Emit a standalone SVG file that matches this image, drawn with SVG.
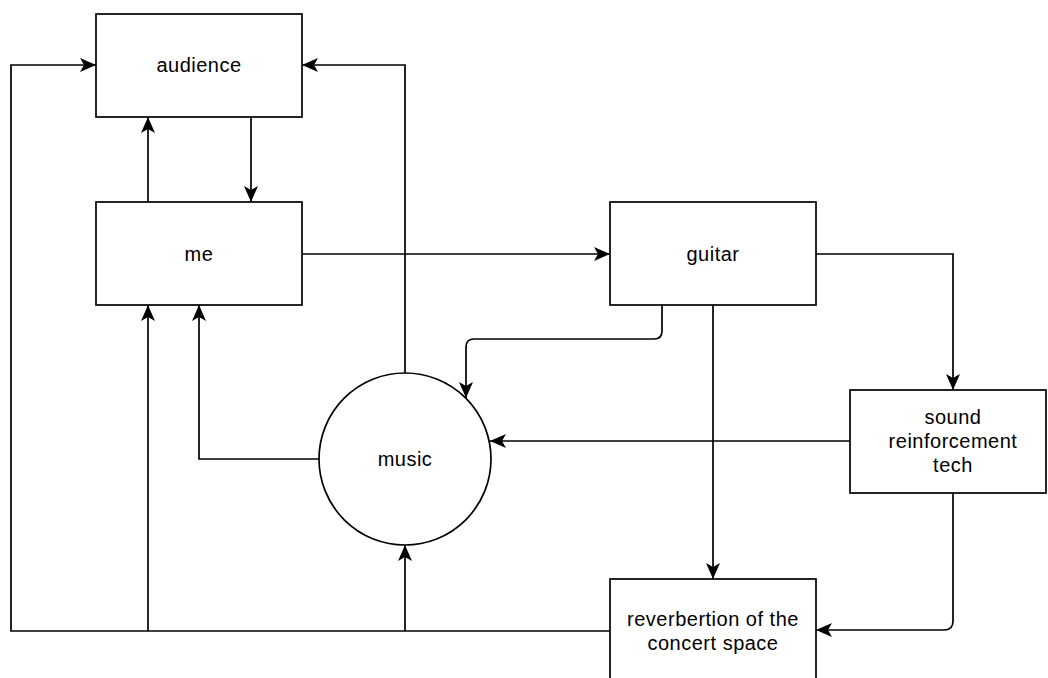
<svg xmlns="http://www.w3.org/2000/svg" width="1048" height="678" viewBox="0 0 1048 678">
  <style>
    .box { fill: #ffffff; stroke: #000000; stroke-width: 1.7; }
    .edge { fill: none; stroke: #000000; stroke-width: 1.7; }
    .label { font-family: "Liberation Sans", Arial, sans-serif; font-size: 20px; letter-spacing: 0.5px; fill: #000000; text-anchor: middle; dominant-baseline: central; }
  </style>
  <defs>
    <marker id="arrow" viewBox="0 0 16 14" refX="16" refY="7" markerWidth="16" markerHeight="14" markerUnits="userSpaceOnUse" orient="auto">
      <path d="M0,0 L16,7 L0,14 L4,7 Z" fill="#000000"/>
    </marker>
  </defs>
  <rect width="1048" height="678" fill="#ffffff"/>

  <!-- connectors -->
  <g id="connectors">
    <!-- me -> audience -->
    <path class="edge" d="M148,202 L148,117" marker-end="url(#arrow)"/>
    <!-- audience -> me -->
    <path class="edge" d="M251,117 L251,202" marker-end="url(#arrow)"/>
    <!-- me -> guitar -->
    <path class="edge" d="M302,254 L610,254" marker-end="url(#arrow)"/>
    <!-- music -> audience -->
    <path class="edge" d="M405,373 L405,65 L302,65" marker-end="url(#arrow)"/>
    <!-- music -> me -->
    <path class="edge" d="M319,459 L199,459 L199,305" marker-end="url(#arrow)"/>
    <!-- guitar -> music -->
    <path class="edge" d="M662,305 L662,331 Q662,339 654,339 L474,339 Q466,339 466,347 L466,398" marker-end="url(#arrow)"/>
    <!-- guitar -> sound reinforcement tech -->
    <path class="edge" d="M816,254 L953,254 L953,390" marker-end="url(#arrow)"/>
    <!-- guitar -> reverberation -->
    <path class="edge" d="M713,305 L713,579" marker-end="url(#arrow)"/>
    <!-- sound reinforcement tech -> music -->
    <path class="edge" d="M850,441 L490,441" marker-end="url(#arrow)"/>
    <!-- sound reinforcement tech -> reverberation -->
    <path class="edge" d="M953,493 L953,621 Q953,630 944,630 L816,630" marker-end="url(#arrow)"/>
    <!-- reverberation -> audience / me / music -->
    <path class="edge" d="M610,631 L11,631 L11,65 L96,65" marker-end="url(#arrow)"/>
    <path class="edge" d="M148,631 L148,305" marker-end="url(#arrow)"/>
    <path class="edge" d="M405,631 L405,545" marker-end="url(#arrow)"/>
  </g>

  <g id="audience">
    <rect class="box" x="96" y="14" width="206" height="103"/>
    <text class="label" x="199" y="65">audience</text>
  </g>
  <g id="me">
    <rect class="box" x="96" y="202" width="206" height="103"/>
    <text class="label" x="199" y="254">me</text>
  </g>
  <g id="guitar">
    <rect class="box" x="610" y="202" width="206" height="103"/>
    <text class="label" x="713" y="254">guitar</text>
  </g>
  <g id="music">
    <circle class="box" cx="405" cy="459" r="86"/>
    <text class="label" x="405" y="459">music</text>
  </g>
  <g id="sound-reinforcement-tech">
    <rect class="box" x="850" y="390" width="196" height="103"/>
    <text class="label" x="953" y="417">sound</text>
    <text class="label" x="953" y="441">reinforcement</text>
    <text class="label" x="953" y="465">tech</text>
  </g>
  <g id="reverberation">
    <rect class="box" x="610" y="579" width="206" height="103"/>
    <text class="label" x="713" y="619">reverbertion of the</text>
    <text class="label" x="713" y="643">concert space</text>
  </g>
</svg>
